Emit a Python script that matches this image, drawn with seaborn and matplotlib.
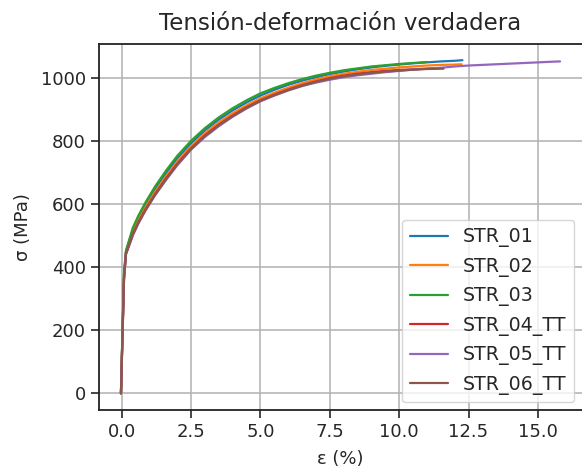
import matplotlib
matplotlib.use("Agg")
import matplotlib.pyplot as plt
import seaborn as sns
import pandas as pd

base_eps = [-0.03, 0.02, 0.08, 0.15, 0.4, 0.6, 0.85, 1.2, 1.6, 2.0, 2.5, 3.0, 3.5, 4.0,
            4.5, 5.0, 5.5, 6.0, 6.5, 7.0, 7.5, 8.0, 8.5, 9.0, 9.5, 10.0, 10.5, 11.0]

eps_01 = base_eps + [11.5, 12.0, 12.28]
sig_01 = [0, 175, 375, 448, 518, 556, 597, 647, 698, 744, 792, 833, 867, 896, 921, 943,
          961, 977, 990, 1001, 1011, 1019, 1026, 1032, 1037, 1041, 1045, 1048, 1051, 1053, 1055]

eps_02 = base_eps + [11.5, 12.0, 12.25]
sig_02 = [0, 170, 370, 445, 512, 549, 589, 638, 688, 734, 783, 824, 858, 887, 912, 934,
          952, 968, 982, 994, 1004, 1012, 1018, 1024, 1028, 1032, 1035, 1038, 1040, 1041, 1042]

eps_03 = base_eps
sig_03 = [0, 180, 380, 452, 525, 563, 604, 655, 706, 752, 800, 840, 874, 903, 928, 950,
          967, 982, 995, 1006, 1015, 1023, 1029, 1035, 1039, 1043, 1046, 1049]

eps_04 = base_eps + [11.3]
sig_04 = [0, 165, 365, 442, 505, 542, 582, 631, 681, 727, 776, 817, 851, 880, 906, 928,
          946, 962, 976, 988, 998, 1006, 1012, 1017, 1021, 1024, 1026, 1028, 1029]

eps_05 = base_eps + [11.5, 12.0, 12.5, 13.0, 13.5, 14.0, 14.5, 15.0, 15.5, 15.8]
sig_05 = [0, 165, 360, 440, 500, 538, 578, 627, 676, 722, 772, 812, 846, 876, 902, 925,
          943, 959, 973, 984, 993, 1001, 1007, 1012, 1017, 1021, 1025, 1028, 1031, 1035,
          1038, 1040, 1042, 1044, 1046, 1048, 1050, 1051]

eps_06 = base_eps + [11.6]
sig_06 = [0, 165, 362, 441, 503, 540, 580, 629, 679, 725, 774, 815, 849, 878, 904, 926,
          944, 960, 974, 986, 996, 1004, 1010, 1015, 1019, 1022, 1025, 1027, 1028]

names = ["STR_01", "STR_02", "STR_03", "STR_04_TT", "STR_05_TT", "STR_06_TT"]
eps_all = [eps_01, eps_02, eps_03, eps_04, eps_05, eps_06]
sig_all = [sig_01, sig_02, sig_03, sig_04, sig_05, sig_06]

rows = []
for n, e, s in zip(names, eps_all, sig_all):
    for a, b in zip(e, s):
        rows.append({"serie": n, "eps": a, "sig": b})
df = pd.DataFrame(rows)

sns.set_style("ticks")
plt.rcParams['font.family'] = ['DejaVu Sans']
plt.rcParams['font.size'] = 13

fig = plt.figure(figsize=(5.82, 4.68), dpi=100)
ax = fig.add_axes([99/582, 1 - 410/468, (582-99)/582, (410-43.5)/468])
sns.lineplot(data=df, x="eps", y="sig", hue="serie", palette="tab10", sort=False,
             estimator=None, units="serie", linewidth=1.6, ax=ax)
ax.grid(True, color="#b0b0b0", linewidth=1.1)
ax.set_xticks([0, 2.5, 5.0, 7.5, 10.0, 12.5, 15.0])
ax.set_xticklabels(["0.0", "2.5", "5.0", "7.5", "10.0", "12.5", "15.0"])
ax.set_title("Tensión-deformación verdadera", fontsize=16.5, pad=10)
ax.set_xlabel("ε (%)", fontsize=13, labelpad=6)
ax.set_ylabel("σ (MPa)", fontsize=13, labelpad=6)
ax.tick_params(labelsize=13, length=6, width=1.2)
ax.spines['right'].set_visible(False)
for sp in ax.spines.values():
    sp.set_color("#222222")
    sp.set_linewidth(1.3)
h, l = ax.get_legend_handles_labels()
ax.legend(h, l, loc="lower right", fontsize=13.7, title=None, handlelength=2.0,
          borderaxespad=0.4)
fig.savefig("out.png", dpi=100)
